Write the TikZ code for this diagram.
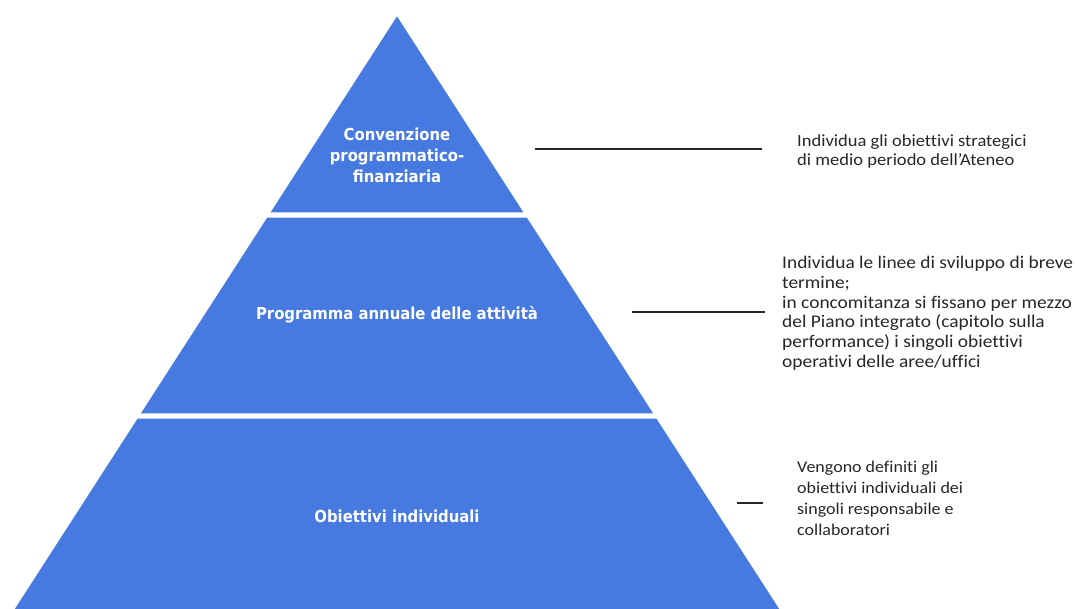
\documentclass[tikz,border=0pt]{standalone}
\usepackage{fontspec}
\setmainfont{Carlito}[Ligatures=NoCommon, FakeStretch=1.09]
\newfontfamily\labfont{DejaVu Sans Condensed}
\definecolor{pyrblue}{RGB}{70,122,224}
\definecolor{txtgray}{RGB}{38,38,38}
\tikzset{
  layer/.style={fill=pyrblue, draw=white, line width=1.2pt, line join=miter},
  laylabel/.style={text=white, font=\labfont\bfseries\fontsize{16.5}{21}\selectfont, align=center, inner sep=0pt},
  desc/.style={text=txtgray, font=\fontsize{17}{19.5}\selectfont, align=left, anchor=north west, inner sep=0pt},
  leader/.style={draw=txtgray, line width=1.4pt}
}
\begin{document}
\begin{tikzpicture}[x=1pt,y=-1pt]
\useasboundingbox (0,0) rectangle (1075,608);
\begin{scope}
\clip (0,0) rectangle (1075,608);
\path[layer] (397,15) -- (524.7,213) -- (269.3,213) -- cycle;
\path[layer] (266.7,217) -- (527.3,217) -- (654.4,414) -- (139.6,414) -- cycle;
\path[layer] (137.1,418) -- (656.9,418) -- (782,612) -- (12,612) -- cycle;
\end{scope}
\node[laylabel] (l1) at (397,155) {Convenzione\\programmatico-\\finanziaria};
\node[laylabel] (l2) at (397,315) {Programma annuale delle attività};
\node[laylabel] (l3) at (397,516) {Obiettivi individuali};
\node[desc] (d1) at (797,134) {Individua gli obiettivi strategici\\di medio periodo dell’Ateneo};
\node[desc, font=\fontsize{17.8}{19.8}\selectfont] (d2) at (782,256) {Individua le linee di sviluppo di breve\\termine;\\in concomitanza si fissano per mezzo\\del Piano integrato (capitolo sulla\\performance) i singoli obiettivi\\operativi delle aree/uffici};
\node[desc, font=\fontsize{16.5}{21}\selectfont] (d3) at (797,461) {Vengono definiti gli\\obiettivi individuali dei\\singoli responsabile e\\collaboratori};
\coordinate (a1) at (535,149); \coordinate (b1) at (762,149);
\coordinate (a2) at (632,312); \coordinate (b2) at (765,312);
\coordinate (a3) at (737,503); \coordinate (b3) at (763,503);
\draw[leader] (a1) -- (b1);
\draw[leader] (a2) -- (b2);
\draw[leader] (a3) -- (b3);
\end{tikzpicture}
\end{document}
